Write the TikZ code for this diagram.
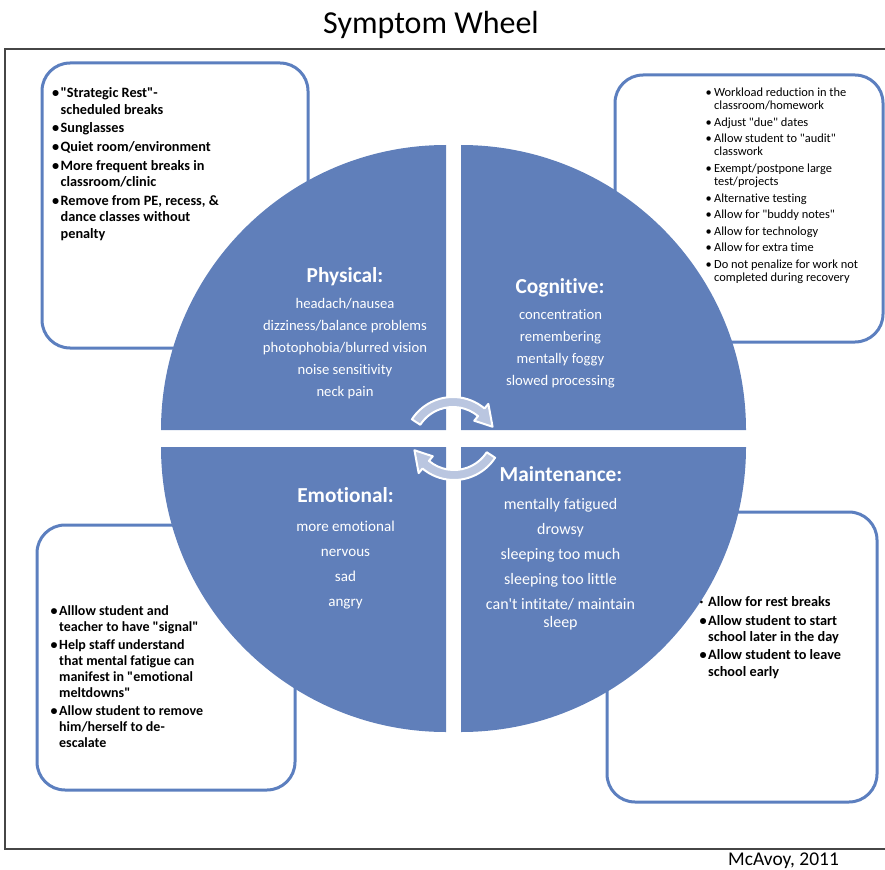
\documentclass[tikz,border=0pt]{standalone}
\usepackage{fontspec}
\setmainfont{Carlito}[Ligatures={NoCommon}]

\definecolor{wheelblue}{RGB}{96,127,186}
\definecolor{boxblue}{RGB}{92,127,191}
\definecolor{arrowfill}{RGB}{186,198,224}
\definecolor{framegray}{RGB}{70,70,70}

\newcommand{\bul}{\makebox[6.5pt][l]{\textbullet}}
\newcommand{\dotbul}{\makebox[6.5pt][l]{\textperiodcentered}}
\newcommand{\ind}{\hspace*{6.5pt}}
\newcommand{\q}{\textquotedbl}

\tikzset{every picture/.style={line width=0.75pt}}
\tikzset{
  tipbox/.style={draw=boxblue, line width=2.25pt, rounded corners=21pt},
  quarter/.style={fill=wheelblue},
  turnarrow/.style={fill=arrowfill, draw=white, line width=1.5pt, line join=round},
  quadhead/.style={text=white, font=\fontsize{16}{19}\selectfont\bfseries, inner sep=0pt, anchor=base},
  quadtext/.style={text=white, inner sep=0pt, anchor=north, align=center},
  tiptext/.style={inner sep=0pt, anchor=north west, align=left}
}

\begin{document}
\begin{tikzpicture}[x=0.75pt,y=0.75pt,yscale=-1,xscale=1]
\useasboundingbox (0,0) rectangle (885,870);

%Frame
\draw [framegray, line width=1.1pt] (5,49) rectangle (900,849);

%Rounded boxes
\draw [tipbox] (42,63) rectangle (308,348);
\draw [tipbox] (615,75) rectangle (883,342);
\draw [tipbox] (37,525) rectangle (295,790);
\draw [tipbox] (607,512) rectangle (877,802);

%Wheel: four quarters
\fill [quarter] (446,430) -- ++(-285,0) arc[start angle=180, end angle=270, radius=285] -- cycle;
\fill [quarter] (461,430) -- ++(0,-285) arc[start angle=270, end angle=360, radius=285] -- cycle;
\fill [quarter] (461,447) -- ++(285,0) arc[start angle=0, end angle=90, radius=285] -- cycle;
\fill [quarter] (446,447) -- ++(0,285) arc[start angle=90, end angle=180, radius=285] -- cycle;

%Curved arrows
\begin{scope}[shift={(453,446)}]
\draw [turnarrow] (-147:49) arc[start angle=-147, end angle=-50, radius=49] -- (-50:55) -- (-26:44) -- (-50:33) -- (-50:39) arc[start angle=-50, end angle=-147, radius=39] -- cycle;
\end{scope}
\begin{scope}[shift={(454,431)}, rotate=180]
\draw [turnarrow] (-147:49) arc[start angle=-147, end angle=-50, radius=49] -- (-50:55) -- (-26:44) -- (-50:33) -- (-50:39) arc[start angle=-50, end angle=-147, radius=39] -- cycle;
\end{scope}

% Text Node
\draw (431,34) node (title) [anchor=base, inner sep=0pt, font=\fontsize{24}{28}\selectfont] {Symptom Wheel};
% Text Node
\draw (783.5,865) node (sign) [anchor=base, inner sep=0pt, font=\fontsize{14.6}{17}\selectfont] {McAvoy, 2011};

% Text Node
\draw (51.5,87) node (phystips) [tiptext] [font=\fontsize{10.7}{12.4}\selectfont\bfseries] {\bul\q Strategic Rest\q -\\
\ind scheduled breaks\\[1.6pt]
\bul Sunglasses\\[1.6pt]
\bul Quiet room/environment\\[1.6pt]
\bul More frequent breaks in\\
\ind classroom/clinic\\[1.6pt]
\bul Remove from PE, recess, \&\\
\ind dance classes without\\
\ind penalty};
% Text Node
\draw (705,87) node (cogtips) [tiptext] [font=\fontsize{9.3}{10.1}\selectfont] {\bul Workload reduction in the\\
\ind classroom/homework\\[2.25pt]
\bul Adjust \q due\q{} dates\\[2.25pt]
\bul Allow student to \q audit\q\\
\ind classwork\\[2.25pt]
\bul Exempt/postpone large\\
\ind test/projects\\[2.25pt]
\bul Alternative testing\\[2.25pt]
\bul Allow for \q buddy notes\q\\[2.25pt]
\bul Allow for technology\\[2.25pt]
\bul Allow for extra time\\[2.25pt]
\bul Do not penalize for work not\\
\ind completed during recovery};
% Text Node
\draw (50,605) node (emotips) [tiptext] [font=\fontsize{10.5}{12}\selectfont\bfseries] {\bul Alllow student and\\
\ind teacher to have \q signal\q\\[1.5pt]
\bul Help staff understand\\
\ind that mental fatigue can\\
\ind manifest in \q emotional\\
\ind meltdowns\q\\[1.5pt]
\bul Allow student to remove\\
\ind him/herself to de-\\
\ind escalate};
% Text Node
\draw (699,596) node (maintips) [tiptext] [font=\fontsize{10.7}{12.2}\selectfont\bfseries] {\dotbul Allow for rest breaks\\[1.7pt]
\bul Allow student to start\\
\ind school later in the day\\[1.7pt]
\bul Allow student to leave\\
\ind school early};

% Text Node
\draw (345,282) node (physhead) [quadhead] {Physical:};
\draw (345,297.5) node (physlist) [quadtext, font=\fontsize{11}{16.6}\selectfont] {headach/nausea\\dizziness/balance problems\\photophobia/blurred vision\\noise sensitivity\\neck pain};
% Text Node
\draw (560,293) node (coghead) [quadhead] {Cognitive:};
\draw (560.5,309.3) node (coglist) [quadtext, font=\fontsize{11}{16.4}\selectfont] {concentration\\remembering\\mentally foggy\\slowed processing};
% Text Node
\draw (345.5,502.3) node (emohead) [quadhead] {Emotional:};
\draw (345.5,520.6) node (emolist) [quadtext, font=\fontsize{11.3}{18.7}\selectfont] {more emotional\\nervous\\sad\\angry};
% Text Node
\draw (561,481.7) node (mainhead) [quadhead] {Maintenance:};
\draw (560.5,497.8) node (mainlist) [quadtext, font=\fontsize{12}{13.8}\selectfont] {mentally fatigued\\[4.9pt]drowsy\\[4.9pt]sleeping too much\\[4.9pt]sleeping too little\\[4.9pt]can\textquotesingle t intitate/ maintain\\sleep};

\end{tikzpicture}
\end{document}
